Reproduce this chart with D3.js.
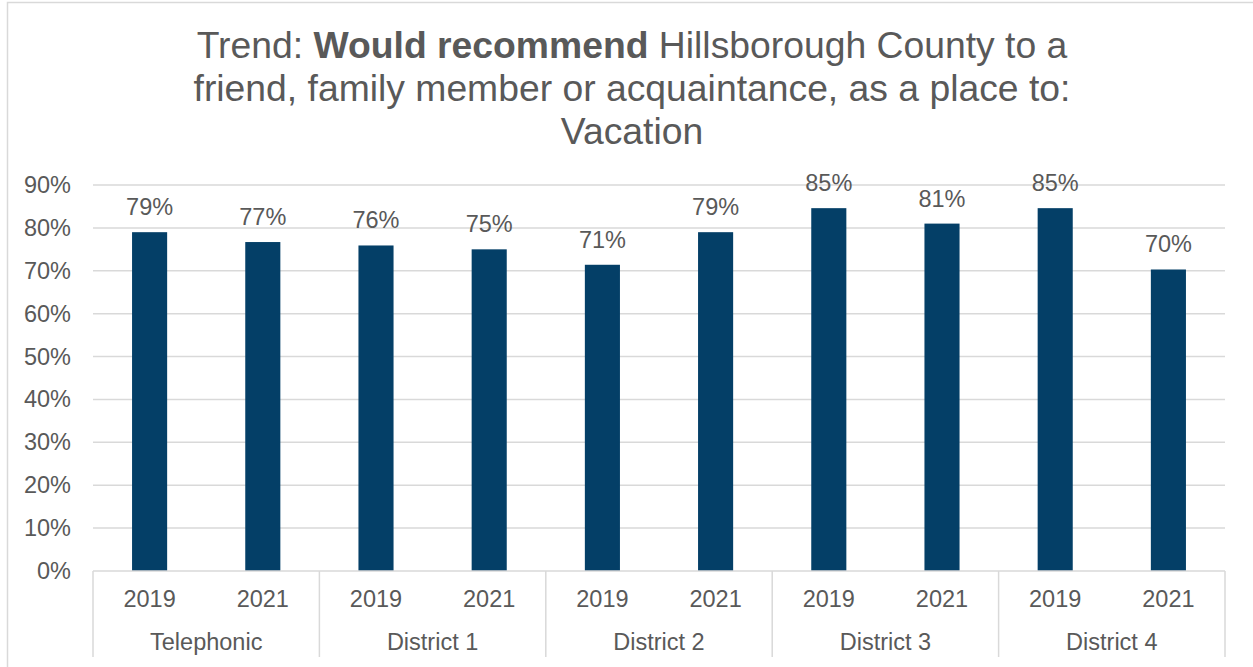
<!DOCTYPE html>
<html>
<head>
<meta charset="utf-8">
<script src="https://cdn.jsdelivr.net/npm/d3@7"></script>
<style>
  body { margin: 0; background: #fff; }
  text { font-family: "Liberation Sans", Arial, sans-serif; fill: #595959; }
</style>
</head>
<body>
<div id="chart"></div>
<script>
// data
var groups = ["Telephonic", "District 1", "District 2", "District 3", "District 4"];
var years = ["2019", "2021"];
var values = [0.790, 0.767, 0.759, 0.750, 0.714, 0.790, 0.846, 0.810, 0.846, 0.703];
var yTicks = [0, 0.1, 0.2, 0.3, 0.4, 0.5, 0.6, 0.7, 0.8, 0.9];

var svgWidth = 1253;
var svgHeight = 667;

var plot = { left: 93, right: 1225, top: 185, bottom: 571 };

var svg = d3.select("#chart")
  .append("svg")
  .attr("width", svgWidth)
  .attr("height", svgHeight);

// chart area border
svg.append("rect")
  .attr("x", 7.5)
  .attr("y", 2.5)
  .attr("width", 1260)
  .attr("height", 700)
  .attr("fill", "none")
  .attr("stroke", "#d9d9d9")
  .attr("stroke-width", 1.5);

// build rows: one per bar
var rows = [];
groups.forEach(function(g, gi) {
  years.forEach(function(yr, yi) {
    rows.push({ group: g, year: yr, key: g + "|" + yr, value: values[gi * years.length + yi] });
  });
});

var x = d3.scaleBand()
  .domain(rows.map(d => d.key))
  .range([plot.left, plot.right])
  .paddingInner(0.69)
  .paddingOuter(0.345);

var xGroup = d3.scaleBand()
  .domain(groups)
  .range([plot.left, plot.right]);

var y = d3.scaleLinear()
  .domain([0, 0.9])
  .range([plot.bottom, plot.top]);

// title
var title = svg.append("text")
  .attr("text-anchor", "middle")
  .style("font-size", "37.3px");
title.append("tspan").attr("x", 632).attr("y", 58).text("Trend: ");
title.append("tspan").style("font-weight", "bold").text("Would recommend");
title.append("tspan").text(" Hillsborough County to a");
title.append("tspan").attr("x", 632).attr("y", 101).text("friend, family member or acquaintance, as a place to:");
title.append("tspan").attr("x", 632).attr("y", 143.5).text("Vacation");

// gridlines
svg.append("g")
  .selectAll("line")
  .data(yTicks.filter(d => d > 0))
  .enter()
  .append("line")
  .attr("x1", plot.left)
  .attr("x2", plot.right)
  .attr("y1", d => y(d))
  .attr("y2", d => y(d))
  .attr("stroke", "#d9d9d9")
  .attr("stroke-width", 1.5);

// y axis labels
var leftAxis = d3.axisLeft(y)
  .tickValues(yTicks)
  .tickFormat(d3.format(".0%"))
  .tickSize(0)
  .tickPadding(22);

var yAxis = svg.append("g")
  .attr("transform", `translate(${plot.left}, 0)`)
  .call(leftAxis);
yAxis.select(".domain").remove();
yAxis.selectAll("text")
  .style("font-size", "23.5px")
  .attr("fill", "#595959");

// bars
svg.append("g")
  .selectAll("rect")
  .data(rows)
  .enter()
  .append("rect")
  .attr("x", d => x(d.key))
  .attr("y", d => y(d.value))
  .attr("width", x.bandwidth())
  .attr("height", d => y(0) - y(d.value))
  .attr("fill", "#043f67");

// data labels
svg.append("g")
  .selectAll("text")
  .data(rows)
  .enter()
  .append("text")
  .attr("x", d => x(d.key) + x.bandwidth() / 2)
  .attr("y", d => y(d.value) - 17)
  .attr("text-anchor", "middle")
  .style("font-size", "23.5px")
  .text(d => d3.format(".0%")(d.value));

// x axis line
svg.append("line")
  .attr("x1", plot.left)
  .attr("x2", plot.right)
  .attr("y1", plot.bottom)
  .attr("y2", plot.bottom)
  .attr("stroke", "#d9d9d9")
  .attr("stroke-width", 1.5);

// group separators
var seps = groups.map(g => xGroup(g)).concat([plot.right]);
svg.append("g")
  .selectAll("line")
  .data(seps)
  .enter()
  .append("line")
  .attr("x1", d => d)
  .attr("x2", d => d)
  .attr("y1", plot.bottom)
  .attr("y2", 657)
  .attr("stroke", "#d9d9d9")
  .attr("stroke-width", 1.5);

// year labels
svg.append("g")
  .selectAll("text")
  .data(rows)
  .enter()
  .append("text")
  .attr("x", d => x(d.key) + x.bandwidth() / 2)
  .attr("y", 607)
  .attr("text-anchor", "middle")
  .style("font-size", "23.5px")
  .text(d => d.year);

// group labels
svg.append("g")
  .selectAll("text")
  .data(groups)
  .enter()
  .append("text")
  .attr("x", d => xGroup(d) + xGroup.bandwidth() / 2)
  .attr("y", 650)
  .attr("text-anchor", "middle")
  .style("font-size", "23.5px")
  .text(d => d);
</script>
</body>
</html>
